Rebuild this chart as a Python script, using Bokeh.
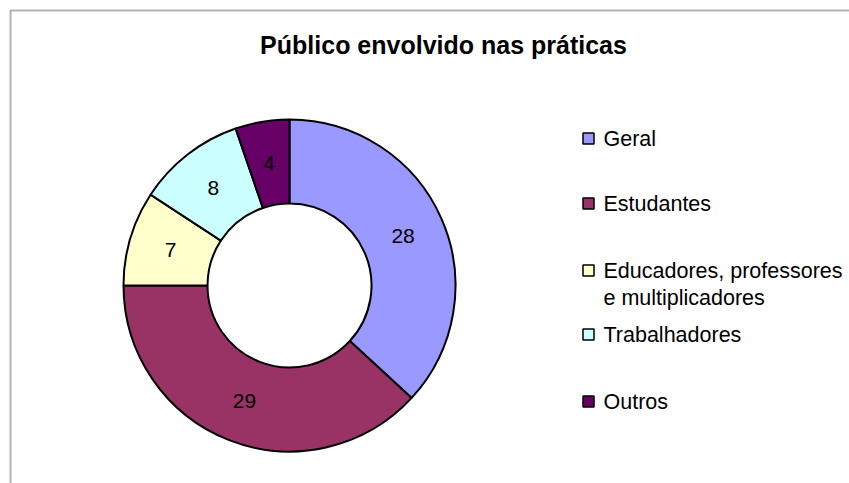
import math
from bokeh.plotting import figure
from bokeh.models import Range1d, BoxAnnotation, ColumnDataSource
from bokeh.core.properties import value
from bokeh.embed import file_html
from bokeh.resources import INLINE

# ---- data ----
title = "Público envolvido nas práticas"
categories = ["Geral", "Estudantes", "Educadores, professores\ne multiplicadores", "Trabalhadores", "Outros"]
values = [28, 29, 7, 8, 4]
colors = ["#9999FF", "#993366", "#FFFFCC", "#CCFFFF", "#660066"]

# ---- layout (screen pixel coordinates, y converted below) ----
W, H = 849, 483
def py(page_y):
    return 483 - page_y

CX, CY = 289, py(285)
R_OUT, R_IN = 166, 82
FONT = "Liberation Sans"

p = figure(width=W, height=H, output_backend="svg", toolbar_location=None,
           x_range=Range1d(0, 849), y_range=Range1d(0, 483),
           min_border=0, outline_line_color=None)
p.axis.visible = False
p.grid.visible = False
p.background_fill_color = "white"
p.border_fill_color = "white"

# frame
p.add_layout(BoxAnnotation(left=10, top=py(10), right=1000, bottom=-100,
                           fill_alpha=0, line_color="black", line_width=2))

# donut
total = sum(values)
starts, ends, lx, ly = [], [], [], []
cum = 0
for v in values:
    a0 = math.pi / 2 - 2 * math.pi * cum / total
    cum += v
    a1 = math.pi / 2 - 2 * math.pi * cum / total
    starts.append(a0)
    ends.append(a1)
    mid = (a0 + a1) / 2
    rm = (R_OUT + R_IN) / 2
    lx.append(CX + rm * math.cos(mid))
    ly.append(CY + rm * math.sin(mid))

src = ColumnDataSource(dict(start=starts, end=ends, color=colors,
                            lx=lx, ly=ly, txt=[str(v) for v in values]))
p.annular_wedge(x=CX, y=CY, inner_radius=R_IN, outer_radius=R_OUT,
                start_angle="start", end_angle="end", direction="clock",
                fill_color="color", line_color="black", line_width=2, source=src)
p.text(x="lx", y="ly", text="txt", source=src, text_font=value(FONT),
       text_font_size="21px", text_align="center", text_baseline="middle",
       text_color="black")

# title
p.text(x=[443], y=[py(44)], text=[title], text_font=value(FONT),
       text_font_size="25px", text_font_style="bold", text_align="center",
       text_baseline="middle", text_color="black")

# legend
leg_y = [138, 203, 270, 334, 401]
sq_x = 588
tx, ty, tt = [], [], []
for cat, yy in zip(categories, leg_y):
    for i, line in enumerate(cat.split("\n")):
        tx.append(603)
        ty.append(py(yy + 27 * i))
        tt.append(line)
p.scatter(x=[sq_x] * len(categories), y=[py(v) for v in leg_y], marker="square",
          size=11, fill_color=colors, line_color="black", line_width=1.5)
p.text(x=tx, y=ty, text=tt, text_font=value(FONT), text_font_size="21.5px",
       text_align="left", text_baseline="middle", text_color="black")

open("out.html", "w").write(file_html(p, INLINE))
